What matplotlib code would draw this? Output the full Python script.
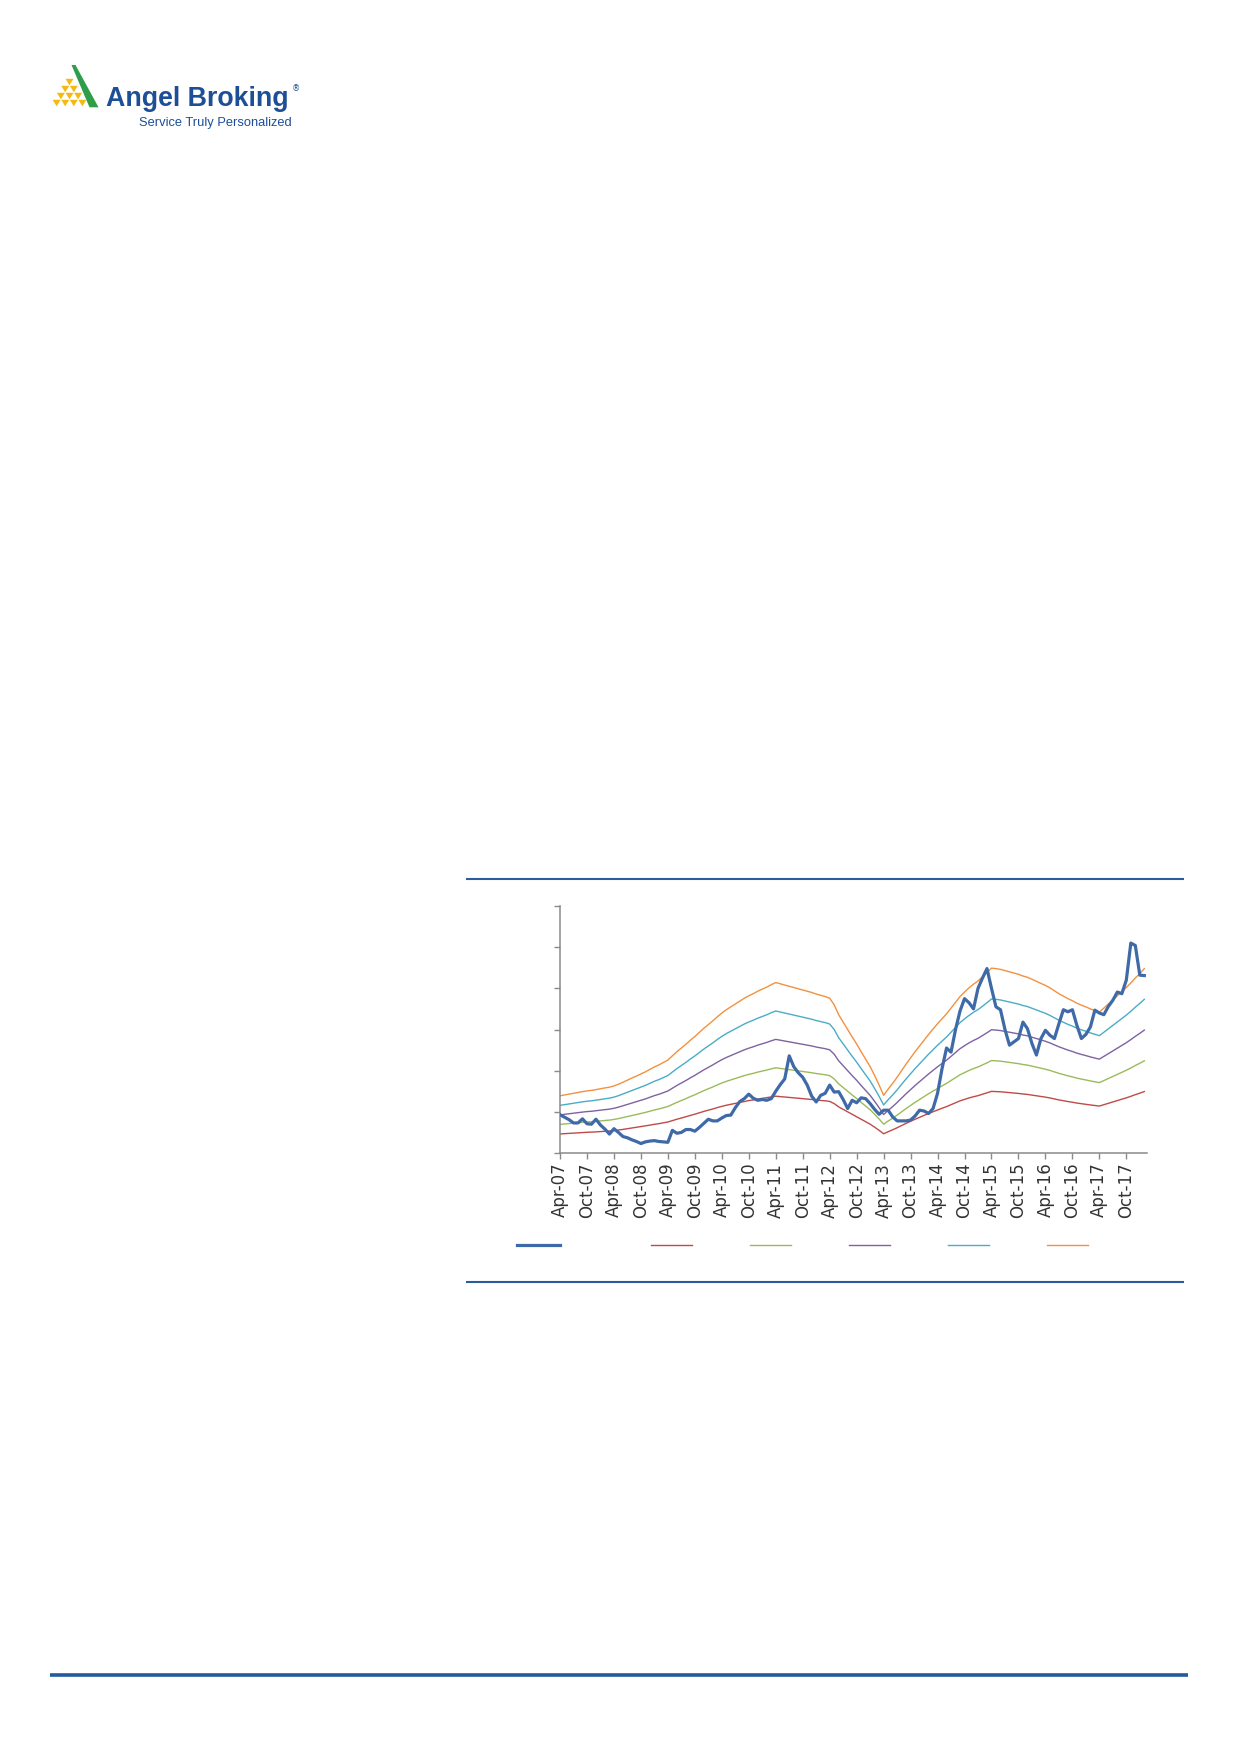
import matplotlib
matplotlib.use('Agg')
import matplotlib.pyplot as plt
from matplotlib.lines import Line2D
from matplotlib.patches import Polygon
import pandas as pd

# ---------------- data ----------------
months = pd.date_range('2007-04-01', periods=131, freq='MS').strftime('%b-%y').tolist()
tick_labels = months[::6]   # Apr-07, Oct-07, ... Oct-17

price = [93, 87, 81, 73, 73, 83, 71, 70, 82, 68,
         58, 46, 59, 50, 40, 37, 32, 28, 23, 27,
         29, 30, 28, 27, 26, 55, 48, 50, 57, 57,
         53, 62, 72, 82, 78, 78, 85, 91, 92, 110,
         125, 132, 143, 133, 128, 130, 128, 132, 150, 166,
         180, 236, 210, 195, 184, 165, 138, 124, 140, 145,
         165, 148, 149, 130, 108, 128, 122, 134, 132, 120,
         106, 94, 104, 104, 88, 78, 78, 78, 80, 90,
         104, 102, 96, 108, 145, 205, 255, 245, 300, 345,
         375, 365, 350, 400, 425, 448, 400, 355, 348, 300,
         262, 270, 278, 318, 302, 266, 238, 278, 298, 286,
         278, 314, 348, 343, 348, 310, 278, 288, 306, 347,
         340, 336, 356, 371, 391, 387, 420, 510, 504, 432,
         431]

eps = [4.63, 4.70, 4.77, 4.83, 4.90, 4.97, 5.03, 5.07, 5.13, 5.20, 5.27, 5.33, 5.43,
       5.57, 5.73, 5.90, 6.07, 6.23, 6.40,
       6.57, 6.77, 6.97, 7.13, 7.33, 7.53,
       7.87, 8.20, 8.50, 8.80, 9.13, 9.43,
       9.77, 10.10, 10.40, 10.70, 11.03, 11.33,
       11.60, 11.83, 12.07, 12.30, 12.53, 12.73,
       12.90, 13.10, 13.27, 13.43, 13.63, 13.80,
       13.70, 13.60, 13.50, 13.40, 13.30, 13.20,
       13.10, 13.00, 12.87, 12.77, 12.67, 12.53,
       12.00, 11.20, 10.60, 10.00, 9.40, 8.83, 8.20, 7.60, 7.00, 6.27, 5.50, 4.67,
       5.17, 5.63, 6.13, 6.67, 7.20, 7.70, 8.20, 8.67, 9.13, 9.60, 10.03, 10.47, 10.87, 11.27,
       11.73, 12.20, 12.67, 13.03, 13.37, 13.67, 13.93, 14.27, 14.60, 14.97,
       14.93, 14.87, 14.77, 14.67, 14.57, 14.47, 14.33, 14.23, 14.07, 13.90, 13.73, 13.57,
       13.37, 13.13, 12.90, 12.70, 12.50, 12.33, 12.13, 11.97, 11.83, 11.67, 11.53, 11.40,
       11.73, 12.07, 12.40, 12.73, 13.07, 13.40, 13.77, 14.17, 14.53, 14.93]

pe_multiples = [10, 15, 20, 25, 30]
band_colors = ['#BE4B48', '#9BBB59', '#7E62A1', '#4BACC6', '#F3913F']
price_color = '#3E6AA8'

# ---------------- figure ----------------
W, H = 1241, 1755
fig = plt.figure(figsize=(W / 100, H / 100), dpi=100)
fig.patch.set_facecolor('white')

# decoration layer in pixel coordinates
deco = fig.add_axes([0, 0, 1, 1], zorder=0)
deco.set_xlim(0, W)
deco.set_ylim(H, 0)
deco.axis('off')

# logo: pile of yellow triangles + green stripe
apex_x, top_y, row_h, tri_w = 69.5, 78.5, 7.0, 8.6
for r in range(4):
    y0 = top_y + r * row_h
    start = apex_x - (r + 1) * tri_w / 2
    for k in range(r + 1):
        x0 = start + k * tri_w
        deco.add_patch(Polygon([(x0 + 0.3, y0 + 0.3), (x0 + tri_w - 0.3, y0 + 0.3),
                                (x0 + tri_w / 2, y0 + row_h - 0.2)],
                               closed=True, facecolor='#F4BA12', edgecolor='none'))
deco.add_patch(Polygon([(71.5, 65), (75.5, 65), (98.5, 107.3), (89.5, 107.3)],
                       closed=True, facecolor='#2E9E48', edgecolor='none'))
deco.text(106, 106, 'Angel Broking', fontsize=19.3, fontweight='bold',
          color='#1D4F97', family='Liberation Sans', va='baseline', ha='left')
deco.text(292, 91, '®', fontsize=6, color='#1D4F97', family='DejaVu Sans',
          va='baseline', ha='left')
deco.text(292, 126, 'Service Truly Personalized', fontsize=9.3, color='#1D4F97',
          family='Liberation Sans', va='baseline', ha='right')

# rules
deco.plot([466, 1184], [879, 879], color='#2B5C9E', lw=1.5, solid_capstyle='butt')
deco.plot([466, 1184], [1282, 1282], color='#2B5C9E', lw=1.5, solid_capstyle='butt')
deco.plot([50, 1188], [1675, 1675], color='#22599F', lw=2.6, solid_capstyle='butt')

# ---------------- chart ----------------
left, right, top, bottom = 560, 1147, 906, 1153
ax = fig.add_axes([left / W, 1 - bottom / H, (right - left) / W, (bottom - top) / H], zorder=1)
ax.set_facecolor('none')

x = list(range(len(price)))
for m, c in zip(pe_multiples, band_colors):
    ax.plot(x, [e * m for e in eps], color=c, lw=1.0)
ax.plot(x, price, color=price_color, lw=2.3, zorder=5)

ax.set_xlim(0, 130.6)
ax.set_ylim(0, 600)
ax.set_yticks(range(0, 601, 100))
ax.set_yticklabels([])
ax.set_xticks(range(0, len(price), 6))
ax.set_xticklabels(tick_labels, rotation=90, fontsize=12, color='#333333',
                   family='DejaVu Sans')
for s in ['top', 'right']:
    ax.spines[s].set_visible(False)
for s in ['left', 'bottom']:
    ax.spines[s].set_color('#8A8A8A')
    ax.spines[s].set_linewidth(1.1)
ax.tick_params(axis='both', direction='out', length=4, width=1.0, color='#8A8A8A')
ax.tick_params(axis='x', pad=3)

# legend (keys only, as in the reference)
fs = 10
px = fs * 100 / 72
leg1 = ax.legend([Line2D([], [], color=price_color, lw=2.3)], [''],
                 loc='center left', bbox_to_anchor=(517 / W, 1 - 1246 / H),
                 bbox_transform=fig.transFigure, frameon=False, fontsize=fs,
                 borderpad=0, borderaxespad=0, handletextpad=0,
                 handlelength=43 / px)
ax.add_artist(leg1)
ax.legend([Line2D([], [], color=c, lw=1.0) for c in band_colors], [''] * 5,
          loc='center left', bbox_to_anchor=(651 / W, 1 - 1246 / H),
          bbox_transform=fig.transFigure, frameon=False, fontsize=fs, ncol=5,
          borderpad=0, borderaxespad=0, handletextpad=0,
          handlelength=40.5 / px, columnspacing=(99 - 40.5) / px)

fig.savefig('out.png', dpi=100, facecolor='white')
